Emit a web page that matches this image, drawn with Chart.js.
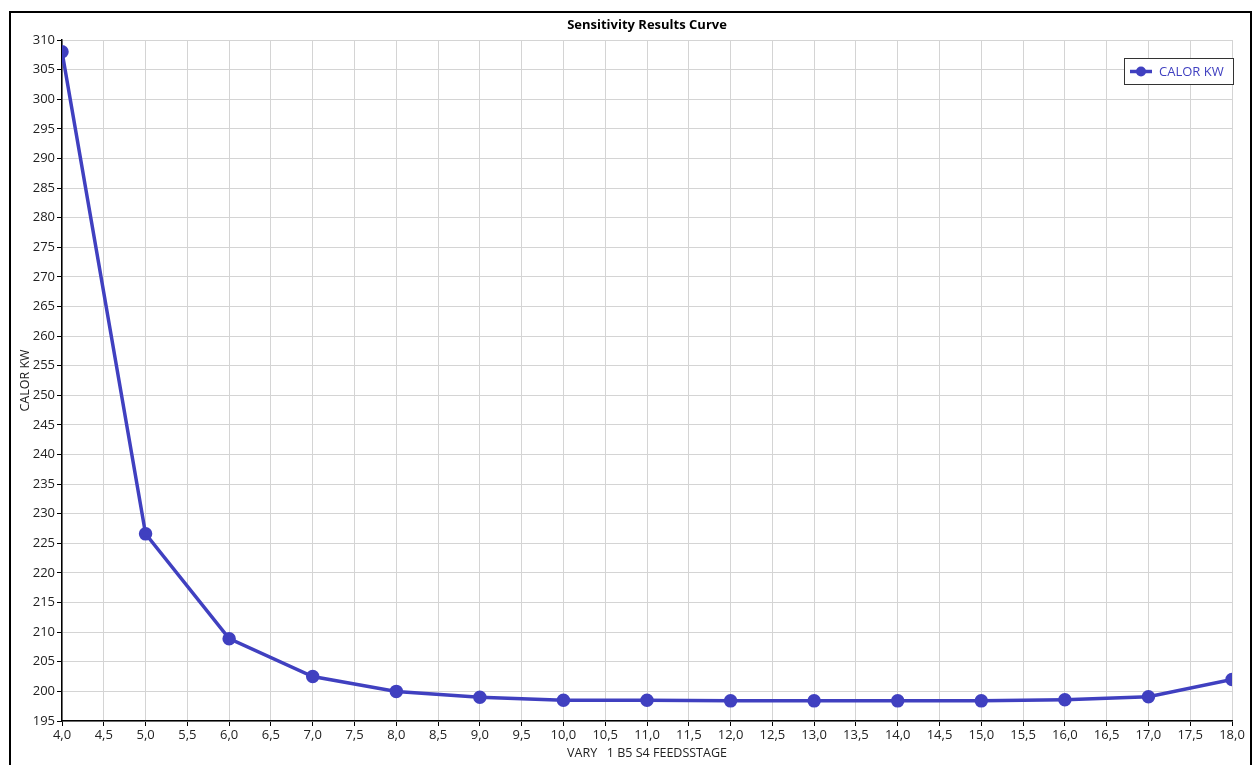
<!DOCTYPE html>
<html>
<head>
<meta charset="utf-8">
<script src="https://cdn.jsdelivr.net/npm/chart.js@4"></script>
<style>
  html, body { margin: 0; padding: 0; background: #fff; }
  #wrap { position: relative; width: 1253px; height: 765px; }
  #frame { position: absolute; left: 9px; top: 11px; width: 1243px; height: 780px;
           border: 2px solid #000; box-sizing: border-box; pointer-events: none; }
</style>
</head>
<body>
<div id="wrap">
  <canvas id="myChart" width="1253" height="765"></canvas>
  <div id="frame"></div>
</div>
<script>
const feedStages = [4, 5, 6, 7, 8, 9, 10, 11, 12, 13, 14, 15, 16, 17, 18];
const calorKw = [308.0, 226.6, 208.9, 202.5, 200.0, 199.0, 198.5, 198.5, 198.4, 198.4, 198.4, 198.4, 198.6, 199.1, 202.0];
const seriesName = 'CALOR KW';
const chartTitle = 'Sensitivity Results Curve';
const xTitle = 'VARY   1 B5 S4 FEEDSSTAGE';
const yTitle = 'CALOR KW';

const lineColor = '#4040C0';
const fontFamily = '"Open Sans", "Noto Sans", sans-serif';

// title centred over the plot area, as in the original
const plotTitle = {
    id: 'plotTitle',
    afterDraw(chart) {
        const ctx = chart.ctx;
        const a = chart.chartArea;
        ctx.save();
        ctx.fillStyle = '#000';
        ctx.font = 'bold 13px ' + fontFamily;
        ctx.textAlign = 'center';
        ctx.textBaseline = 'middle';
        ctx.fillText(chartTitle, (a.left + a.right) / 2, 25);
        ctx.restore();
    }
};

// legend box drawn like the original (framed, top right)
const boxLegend = {
    id: 'boxLegend',
    afterDraw(chart) {
        const ctx = chart.ctx;
        const x = 1124, y = 58, w = 109, h = 26;
        ctx.save();
        ctx.fillStyle = '#fff';
        ctx.fillRect(x, y, w, h);
        ctx.strokeStyle = '#333';
        ctx.lineWidth = 1;
        ctx.strokeRect(x + 0.5, y + 0.5, w, h);
        ctx.strokeStyle = lineColor;
        ctx.lineWidth = 3.5;
        ctx.beginPath();
        ctx.moveTo(x + 6, y + 13.5);
        ctx.lineTo(x + 28, y + 13.5);
        ctx.stroke();
        ctx.fillStyle = lineColor;
        ctx.beginPath();
        ctx.arc(x + 17, y + 13.5, 5, 0, Math.PI * 2);
        ctx.fill();
        ctx.font = '13px ' + fontFamily;
        ctx.textBaseline = 'middle';
        ctx.fillText(seriesName, x + 35, y + 14);
        ctx.restore();
    }
};

const data = {
    datasets: [{
        label: seriesName,
        data: feedStages.map((s, i) => ({ x: s, y: calorKw[i] })),
        borderColor: lineColor,
        backgroundColor: lineColor,
        borderWidth: 3.5,
        pointRadius: 5,
        pointHoverRadius: 5,
        tension: 0
    }]
};

const config = {
    type: 'line',
    data: data,
    plugins: [plotTitle, boxLegend],
    options: {
        responsive: false,
        animation: false,
        layout: { padding: { top: 40, right: 21, left: 0, bottom: 0 } },
        plugins: {
            legend: { display: false },
            tooltip: { enabled: false },
            title: { display: false }
        },
        scales: {
            x: {
                type: 'linear',
                min: 4, max: 18,
                border: { color: '#000', width: 1.5 },
                grid: { color: '#d4d4d4', tickColor: '#000', tickLength: 5 },
                ticks: {
                    stepSize: 0.5,
                    color: '#222',
                    font: { family: fontFamily, size: 13 },
                    padding: 1,
                    maxRotation: 0,
                    autoSkip: false,
                    callback: v => v.toFixed(1).replace('.', ',')
                },
                title: {
                    display: true, text: xTitle, color: '#222',
                    font: { family: fontFamily, size: 12.5 },
                    padding: { top: 0, bottom: 4 }
                },
                afterFit: s => { s.height = 44; }
            },
            y: {
                min: 195, max: 310,
                border: { color: '#000', width: 1.5 },
                grid: { color: '#d4d4d4', tickColor: '#000', tickLength: 5 },
                ticks: {
                    stepSize: 5,
                    color: '#222',
                    font: { family: fontFamily, size: 13 },
                    padding: 2,
                    autoSkip: false
                },
                title: {
                    display: true, text: yTitle, color: '#222',
                    font: { family: fontFamily, size: 12.5 },
                    padding: { top: 18, bottom: 0 }
                },
                afterFit: s => { s.width = 62; }
            }
        }
    }
};

new Chart(document.getElementById('myChart'), config);
</script>
</body>
</html>
